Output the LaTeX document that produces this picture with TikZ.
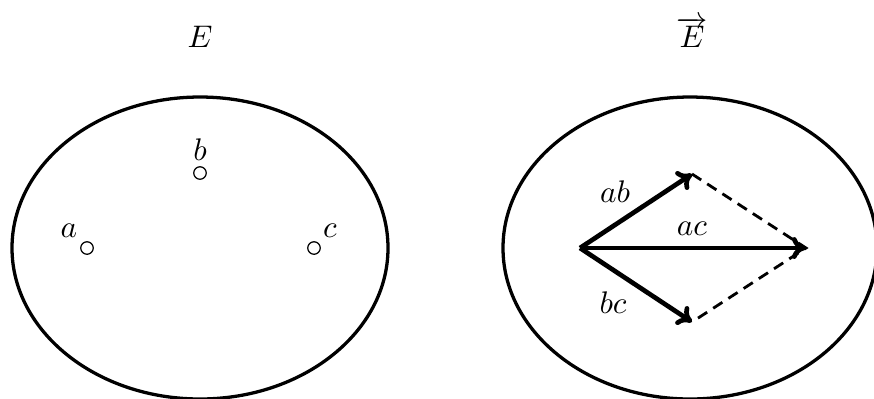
\documentclass[tikz,border=0pt]{standalone}
\usetikzlibrary{arrows.meta}
\begin{document}
\begin{tikzpicture}[x=0.32pt,y=-0.32pt,
  region/.style={line width=1.05pt},
  pointmark/.style={circle,draw,line width=0.4pt,minimum size=4pt,inner sep=0pt},
  vec/.style={line width=1.5pt,-{To[length=4.5pt,width=7pt]}},
  side/.style={line width=0.9pt,dash pattern=on 3.5pt off 2.3pt},
  lbl/.style={inner sep=0pt}]
\useasboundingbox (0,0) rectangle (874,398);
\begin{scope}
\clip (0,0) rectangle (874,398);
\draw[region] (200,248) ellipse [x radius=188, y radius=151];
\draw[region] (690,248) ellipse [x radius=187, y radius=151];
\end{scope}
\node[lbl,anchor=base] (tE) at (200,47) {$E$};
\node[lbl,anchor=base] (tV) at (692,47) {$\overrightarrow{E}$};
% points
\node[pointmark] (pa) at (87,248) {};
\node[pointmark] (pb) at (200,173) {};
\node[pointmark] (pc) at (314,248) {};
\node[lbl] (la) at (69,231) {$a$};
\node[lbl] (lb) at (200,150) {$b$};
\node[lbl] (lc) at (330,231) {$c$};
% vectors
\coordinate (o) at (580,248);
\coordinate (vb) at (692,174);
\coordinate (vc) at (692,322);
\coordinate (vac) at (806,248);
\draw[side] (vb) -- (vac) -- (vc);
\draw[vec] (o) -- (vb);
\draw[vec] (o) -- (vc);
\draw[vec] (o) -- (vac);
\node[lbl] (lab) at (615,192) {$ab$};
\node[lbl] (lac) at (692,229) {$ac$};
\node[lbl] (lbc) at (613,303) {$bc$};
\end{tikzpicture}
\end{document}
